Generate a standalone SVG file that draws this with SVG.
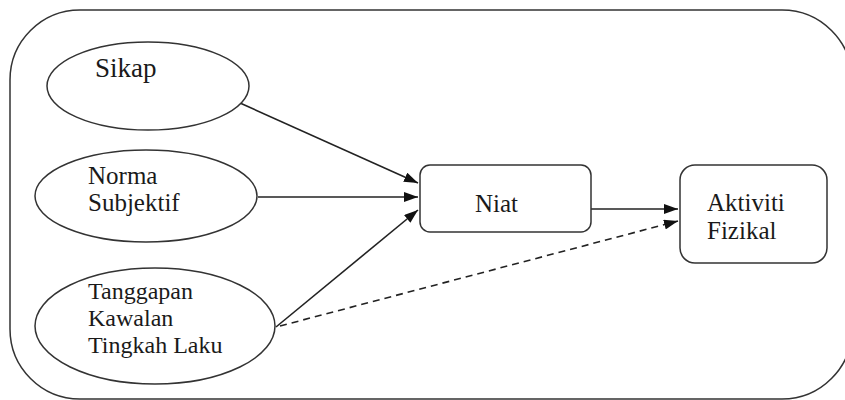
<svg xmlns="http://www.w3.org/2000/svg" width="845" height="400" viewBox="0 0 845 400">
<defs>
<style>
.sh{fill:#fff;stroke:#333;stroke-width:1.5}
.c{stroke:#222;stroke-width:1.6;fill:none}
.d{stroke-dasharray:7,5}
</style>
<marker id="ah" viewBox="0 0 14 10" refX="14" refY="5" markerWidth="14" markerHeight="10" markerUnits="userSpaceOnUse" orient="auto">
<path d="M0,0 L14,5 L0,10 Z" fill="#111"/>
</marker>
</defs>
<rect width="845" height="400" fill="#fff"/>
<rect x="10" y="10" width="842" height="389" rx="70" ry="70" fill="none" stroke="#333" stroke-width="1.5"/>
<g id="connectors">
<line class="c" x1="240" y1="103" x2="418" y2="183" marker-end="url(#ah)"/>
<line class="c" x1="258" y1="197" x2="418" y2="197" marker-end="url(#ah)"/>
<line class="c" x1="276" y1="327" x2="418" y2="210" marker-end="url(#ah)"/>
<line class="c" x1="591" y1="209" x2="678" y2="209" marker-end="url(#ah)"/>
<line class="c d" x1="280" y1="326" x2="678" y2="221" marker-end="url(#ah)"/>
</g>
<g font-family="Liberation Serif, Times New Roman, serif" font-size="25" fill="#1a1a1a">
<g id="sikap">
<ellipse class="sh" cx="148" cy="86" rx="101" ry="44"/>
<text x="95" y="77" font-size="27">Sikap</text>
</g>
<g id="norma">
<ellipse class="sh" cx="146" cy="196" rx="111" ry="46"/>
<text x="88" y="184">Norma</text>
<text x="88" y="211">Subjektif</text>
</g>
<g id="tanggapan" font-size="24">
<ellipse class="sh" cx="155" cy="326" rx="120" ry="58"/>
<text x="88" y="299">Tanggapan</text>
<text x="88" y="326">Kawalan</text>
<text x="88" y="353">Tingkah Laku</text>
</g>
<g id="niat">
<rect class="sh" x="420" y="165" width="171" height="67" rx="10"/>
<text x="475" y="212">Niat</text>
</g>
<g id="aktiviti">
<rect class="sh" x="680" y="165" width="147" height="98" rx="15"/>
<text x="707" y="211">Aktiviti</text>
<text x="707" y="239">Fizikal</text>
</g>
</g>
</svg>
